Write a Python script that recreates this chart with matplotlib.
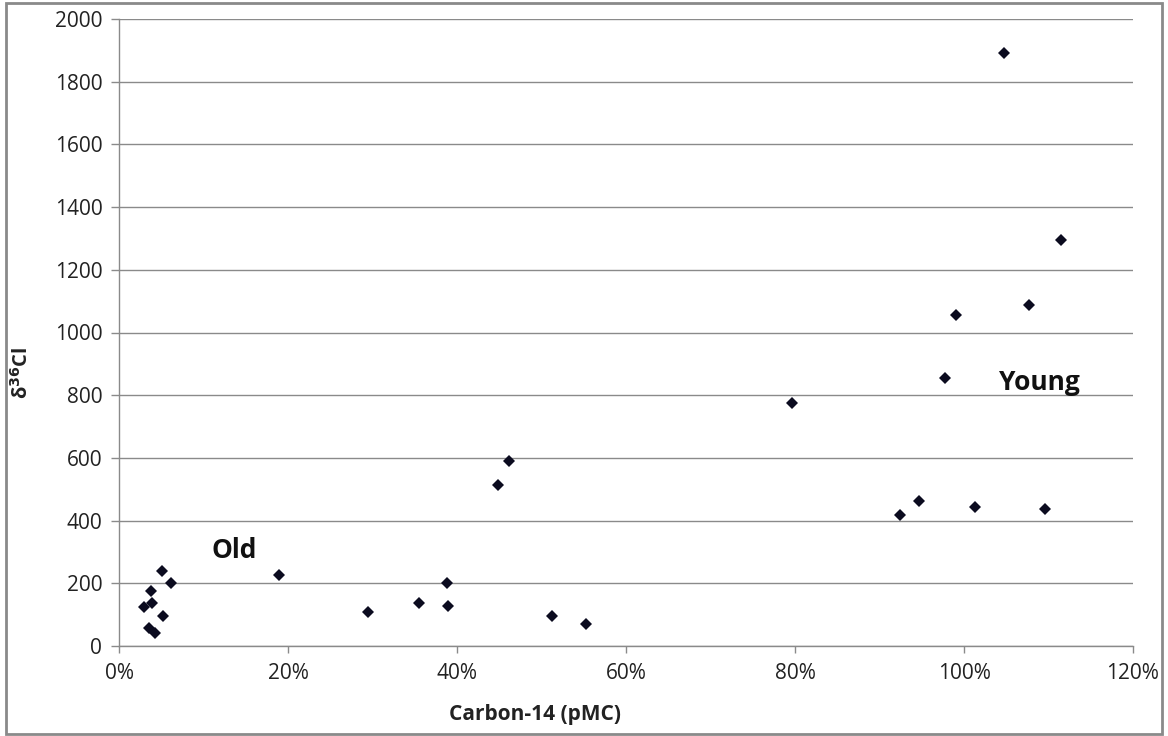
import matplotlib
matplotlib.use("Agg")
import matplotlib.pyplot as plt
from matplotlib.patches import Rectangle
from matplotlib.ticker import FuncFormatter, MultipleLocator

# Carbon-14 activity (fraction of modern carbon) and delta chlorine-36
carbon14 = [0.030, 0.036, 0.0375, 0.039, 0.043, 0.051, 0.052, 0.061, 0.189,
            0.295, 0.355, 0.388, 0.389, 0.449, 0.461, 0.512, 0.553, 0.796,
            0.924, 0.947, 0.978, 0.991, 1.013, 1.047, 1.077, 1.096, 1.115]
delta36cl = [124, 57, 176, 138, 41, 240, 96, 200, 226,
             108, 136, 202, 129, 512, 589, 97, 71, 775,
             418, 463, 854, 1057, 443, 1891, 1089, 438, 1295]

group_labels = ["Old", "Young"]
group_positions = [(0.109, 306), (1.041, 842)]

plt.rcParams['font.family'] = ['Open Sans', 'DejaVu Sans']

fig = plt.figure(figsize=(11.68, 7.36), dpi=100)
ax = fig.add_axes([119 / 1168, 1 - 646 / 736, 1014 / 1168, 627 / 736])

ax.plot(carbon14, delta36cl, linestyle='none', marker='D', markersize=6.2,
        color='#0b0b1f', markeredgewidth=0)

ax.set_xlim(0, 1.2)
ax.set_ylim(0, 2000)
ax.xaxis.set_major_locator(MultipleLocator(0.2))
ax.yaxis.set_major_locator(MultipleLocator(200))
ax.xaxis.set_major_formatter(FuncFormatter(lambda v, p: f"{v * 100:.0f}%"))

grid_c = '#8a8a8a'
ax.grid(axis='y', color=grid_c, linewidth=1.0)
ax.set_axisbelow(True)
for side in ('top', 'right'):
    ax.spines[side].set_visible(False)
for side in ('left', 'bottom'):
    ax.spines[side].set_color(grid_c)
    ax.spines[side].set_linewidth(1.0)

ax.tick_params(axis='both', colors=grid_c, labelcolor='#222222',
               labelsize=15, width=1.0)
ax.tick_params(axis='y', length=6, pad=6)
ax.tick_params(axis='x', length=5, pad=7)

ax.set_xlabel('Carbon-14 (pMC)', fontsize=15, fontweight='bold',
              color='#222222')
ax.xaxis.set_label_coords(0.41, -0.093)
ax.set_ylabel(r'δ$^{\mathbf{36}}$Cl', fontsize=14.5, fontweight='bold',
              color='#222222')
ax.yaxis.set_label_coords(-0.085, 0.435)

for label, (gx, gy) in zip(group_labels, group_positions):
    ax.text(gx, gy, label, fontsize=19, fontweight='bold', color='#111111',
            ha='left', va='center')

fig.patches.append(Rectangle((6 / 1168, 2 / 736), 1156 / 1168, 731 / 736,
                             transform=fig.transFigure, fill=False,
                             edgecolor='#8a8a8a', linewidth=2))

fig.savefig('out.png', dpi=100)
